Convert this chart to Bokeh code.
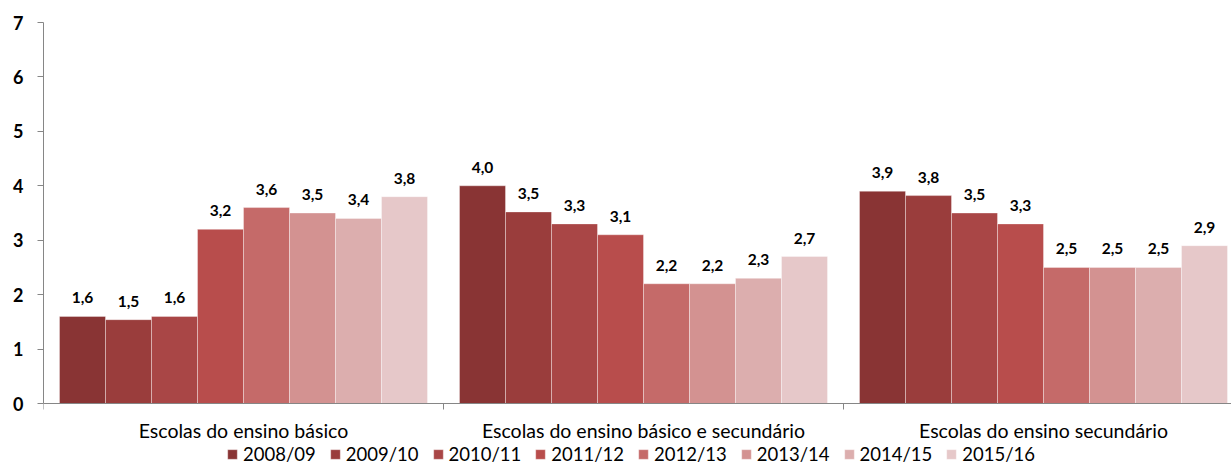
from bokeh.plotting import figure
from bokeh.models import ColumnDataSource, FixedTicker, Legend, LegendItem, Range1d, LabelSet
from bokeh.embed import file_html
from bokeh.resources import INLINE
from bokeh.core.properties import value

categories = ["Escolas do ensino básico",
              "Escolas do ensino básico e secundário",
              "Escolas do ensino secundário"]
years = ["2008/09", "2009/10", "2010/11", "2011/12",
         "2012/13", "2013/14", "2014/15", "2015/16"]
basico = [1.6, 1.54, 1.6, 3.2, 3.6, 3.5, 3.4, 3.8]
basico_secundario = [4.0, 3.52, 3.3, 3.1, 2.2, 2.2, 2.3, 2.7]
secundario = [3.9, 3.82, 3.5, 3.3, 2.5, 2.5, 2.5, 2.9]
colors = ["#893434", "#9a3d3c", "#a94646", "#b84d4c",
          "#c56a69", "#d39291", "#dcaeae", "#e6c8c9"]
y_ticks = [0, 1, 2, 3, 4, 5, 6, 7]

FONT = "Lato"
group_pad = 0.04
bar_w = (1 - 2 * group_pad) / len(years)

W, H = 1231, 466
LEFT, TOP = 43, 22
PLOT_H = 381          # pixel height of the 0..7 value band
frame_h = H - TOP
y_max = 7
y_min = -y_max * (frame_h - PLOT_H) / PLOT_H   # room below zero for labels+legend

p = figure(width=W, height=H, output_backend="svg", toolbar_location=None,
           x_range=Range1d(0, 2.97), y_range=Range1d(y_min, y_max),
           min_border_left=LEFT, min_border_right=0, min_border_top=TOP,
           min_border_bottom=0, outline_line_color=None)
p.background_fill_color = "white"
p.border_fill_color = "white"
p.xgrid.visible = False
p.ygrid.visible = False

items = []
series = list(zip(basico, basico_secundario, secundario))
for k, yr in enumerate(years):
    tops = list(series[k])
    xs = [g + group_pad + bar_w * (k + 0.5) for g in range(len(categories))]
    labels = [f"{v:.1f}".replace(".", ",") for v in tops]
    src = ColumnDataSource(dict(x=xs, top=tops, label=labels))
    r = p.vbar(x="x", top="top", bottom=0, width=bar_w, source=src,
               fill_color=colors[k], line_color="white", line_alpha=0.35,
               line_width=1)
    items.append(LegendItem(label=yr, renderers=[r]))
    ls = LabelSet(x="x", y="top", text="label", source=src, y_offset=13,
                  text_align="center", text_baseline="alphabetic",
                  text_font=value(FONT), text_font_style="bold",
                  text_font_size="15.5px", text_color="black")
    p.add_layout(ls)

# y axis
p.yaxis.ticker = FixedTicker(ticks=y_ticks)
p.yaxis.bounds = (0, y_max)
p.yaxis.axis_line_color = "#868686"
p.yaxis.major_tick_line_color = "#868686"
p.yaxis.major_tick_out = 6
p.yaxis.major_tick_in = 0
p.yaxis.minor_tick_line_color = None
p.yaxis.major_label_text_font = FONT
p.yaxis.major_label_text_font_style = "bold"
p.yaxis.major_label_text_font_size = "18px"
p.yaxis.major_label_text_color = "black"
p.yaxis.major_label_standoff = 14

# x axis (category axis at value 0)
p.xaxis.fixed_location = 0
p.xaxis.ticker = FixedTicker(ticks=[g + 0.5 for g in range(len(categories))],
                             minor_ticks=[0, 1, 2, 3])
p.xaxis.major_label_overrides = {g + 0.5: c for g, c in enumerate(categories)}
p.xaxis.axis_line_color = "#868686"
p.xaxis.major_tick_line_color = None
p.xaxis.major_tick_out = 0
p.xaxis.major_tick_in = 0
p.xaxis.minor_tick_line_color = "#868686"
p.xaxis.minor_tick_out = 6
p.xaxis.minor_tick_in = 0
p.xaxis.major_label_text_font = FONT
p.xaxis.major_label_text_font_size = "19.5px"
p.xaxis.major_label_text_color = "black"
p.xaxis.major_label_standoff = 9

legend = Legend(items=items, orientation="horizontal", location=(183, 1),
                border_line_color=None, background_fill_alpha=0,
                glyph_width=12, glyph_height=12, label_standoff=5, spacing=13,
                padding=0, margin=0, label_height=18,
                label_text_font=FONT, label_text_font_size="18.5px",
                label_text_color="black")
p.add_layout(legend, "center")

open("out.html", "w").write(file_html(p, INLINE))
